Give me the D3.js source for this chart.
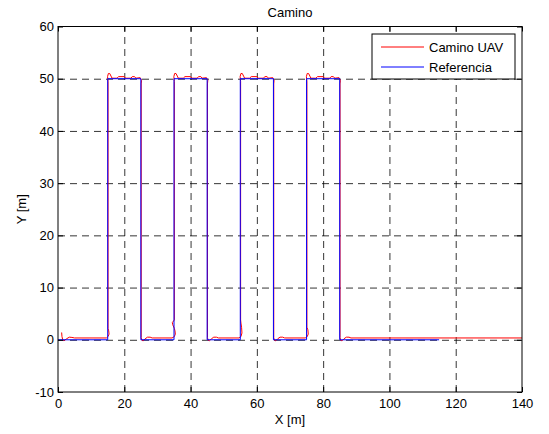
<!DOCTYPE html>
<meta charset="utf-8" />
<style>
  body { margin: 0; background: #fff; }
  text { font-family: "Liberation Sans", Arial, sans-serif; font-size: 13px; fill: #000; }
  .grid line { stroke: #000; stroke-width: 0.8; stroke-dasharray: 7, 5; }
  .grid path { display: none; }
  .axis path { display: none; }
  .axis line { stroke: #000; }
</style>
<body>
<script src="https://d3js.org/d3.v7.min.js"></script>
<script>
  // tick values
  var xTicks = [0, 20, 40, 60, 80, 100, 120, 140];
  var yTicks = [-10, 0, 10, 20, 30, 40, 50, 60];

  // reference path (x, y)
  var refPath = [
    [0, 0], [15, 0], [15, 50], [25, 50], [25, 0],
    [35, 0], [35, 50], [45, 50], [45, 0],
    [55, 0], [55, 50], [65, 50], [65, 0],
    [75, 0], [75, 50], [85, 50], [85, 0], [115, 0]
  ];

  // UAV path
  var uavPath = [
    [1.1, 1.4], [1.2, 0.6], [1.4, 0.1], [1.8, -0.2], [2.6, 0.2], [3.4, 0.5], [4.2, 0.45], [5.0, 0.35],
    [14.6, 0.35], [15.1, 0.6], [15.4, 1.1], [15.3, 1.7], [15.1, 2.2],
    [15.1, 49.5], [14.95, 50.4], [15.2, 51.0], [15.6, 51.0], [16.0, 50.5], [16.3, 50.1],
    [17.8, 50.1], [18.3, 50.4], [20.0, 50.4], [20.4, 50.1], [22.0, 50.1], [22.4, 50.4],
    [23.1, 50.4], [23.5, 50.1], [24.8, 50.2], [25.2, 49.7], [25.1, 49.0],
    [25.1, 0.4], [25.3, -0.1], [25.7, -0.2], [26.3, 0.2], [27.0, 0.5], [27.8, 0.5], [28.4, 0.35],
    [34.4, 0.35], [35.1, 0.6], [35.4, 1.1], [35.3, 1.7], [35.1, 2.2], [34.6, 2.9], [34.5, 3.3], [35.1, 3.8],
    [35.1, 49.5], [34.95, 50.4], [35.2, 51.0], [35.6, 51.0], [36.0, 50.5], [36.3, 50.1],
    [37.8, 50.1], [38.3, 50.4], [40.0, 50.4], [40.4, 50.1], [42.0, 50.1], [42.4, 50.4],
    [43.1, 50.4], [43.5, 50.1], [44.8, 50.2], [45.2, 49.7], [45.1, 49.0],
    [45.1, 0.4], [45.3, -0.1], [45.7, -0.2], [46.3, 0.2], [47.0, 0.5], [47.8, 0.5], [48.4, 0.35],
    [54.6, 0.35], [55.2, 0.6], [55.5, 1.3], [55.4, 2.3], [55.2, 3.2], [55.1, 3.8],
    [55.1, 49.5], [54.95, 50.4], [55.2, 51.0], [55.6, 51.0], [56.0, 50.5], [56.3, 50.1],
    [57.8, 50.1], [58.3, 50.4], [60.0, 50.4], [60.4, 50.1], [62.0, 50.1], [62.4, 50.4],
    [63.1, 50.4], [63.5, 50.1], [64.8, 50.2], [65.2, 49.7], [65.1, 49.0],
    [65.1, 0.4], [65.3, -0.1], [65.7, -0.2], [66.3, 0.2], [67.0, 0.5], [67.8, 0.5], [68.4, 0.35],
    [74.6, 0.35], [75.2, 0.6], [75.5, 1.1], [75.4, 1.9], [75.1, 2.4],
    [75.1, 49.5], [74.95, 50.4], [75.2, 51.0], [75.6, 51.0], [76.0, 50.5], [76.3, 50.1],
    [77.8, 50.1], [78.3, 50.4], [80.0, 50.4], [80.4, 50.1], [82.0, 50.1], [82.4, 50.4],
    [83.1, 50.4], [83.5, 50.1], [84.8, 50.2], [85.2, 49.7], [85.1, 49.0],
    [85.1, 0.4], [85.3, -0.1], [85.7, -0.2], [86.3, 0.2], [87.0, 0.5], [87.8, 0.5], [88.4, 0.35],
    [140, 0.35]
  ];

  var seriesNames = ["Camino UAV", "Referencia"];
  var seriesColors = ["#ff0000", "#0000ff"];

  var margin = { top: 26.5, right: 27, bottom: 42, left: 58 },
    width = 549 - margin.left - margin.right,
    height = 434 - margin.top - margin.bottom;

  var x = d3.scaleLinear().domain([0, 140]).range([0, width]);
  var y = d3.scaleLinear().domain([-10, 60]).range([height, 0]);

  // plain hyphen for negatives, as in the original
  var fmt = function (d) { return String(d); };

  var svg = d3.select("body").append("svg")
    .attr("width", 549)
    .attr("height", 434)
    .append("g")
    .attr("transform", "translate(" + margin.left + "," + margin.top + ")");

  // grid
  svg.append("g")
    .attr("class", "grid")
    .attr("transform", "translate(0," + height + ")")
    .call(d3.axisBottom(x).tickValues(xTicks.slice(1, -1)).tickSize(-height).tickFormat(""));
  svg.append("g")
    .attr("class", "grid")
    .call(d3.axisLeft(y).tickValues(yTicks.slice(1, -1)).tickSize(-width).tickFormat(""));

  // the lines
  var line = d3.line()
    .x(function (d) { return x(d[0]); })
    .y(function (d) { return y(d[1]); });

  svg.append("path").datum(uavPath)
    .attr("d", line).attr("fill", "none")
    .attr("stroke", seriesColors[0]).attr("stroke-width", 1);
  svg.append("path").datum(refPath)
    .attr("d", line).attr("fill", "none")
    .attr("stroke", seriesColors[1]).attr("stroke-width", 1);

  // axes with inward ticks
  svg.append("g").attr("class", "axis")
    .attr("transform", "translate(0," + height + ")")
    .call(d3.axisBottom(x).tickValues(xTicks).tickFormat(fmt).tickSizeInner(-5).tickSizeOuter(0).tickPadding(7));
  svg.append("g").attr("class", "axis")
    .call(d3.axisLeft(y).tickValues(yTicks).tickFormat(fmt).tickSizeInner(-5).tickSizeOuter(0).tickPadding(4));
  svg.append("g").attr("class", "axis")
    .call(d3.axisTop(x).tickValues(xTicks).tickSizeInner(-5).tickSizeOuter(0).tickFormat(""));
  svg.append("g").attr("class", "axis")
    .attr("transform", "translate(" + width + ",0)")
    .call(d3.axisRight(y).tickValues(yTicks).tickSizeInner(-5).tickSizeOuter(0).tickFormat(""));
  svg.selectAll(".axis text").style("font-size", "13px").style("font-family", "'Liberation Sans', Arial, sans-serif");

  // box
  svg.append("rect")
    .attr("width", width).attr("height", height)
    .attr("fill", "none").attr("stroke", "#000").attr("stroke-width", 1);

  // labels
  svg.append("text")
    .attr("x", width / 2).attr("y", -10)
    .attr("text-anchor", "middle").text("Camino");
  svg.append("text")
    .attr("x", width / 2).attr("y", height + 32)
    .attr("text-anchor", "middle").text("X [m]");
  svg.append("text")
    .attr("transform", "translate(" + (-32) + "," + (height / 2) + ") rotate(-90)")
    .attr("text-anchor", "middle").text("Y [m]");

  // legend
  var legend = svg.append("g")
    .attr("transform", "translate(" + (372 - margin.left) + "," + (34 - margin.top) + ")");
  legend.append("rect")
    .attr("width", 143).attr("height", 45)
    .attr("fill", "#fff").attr("stroke", "#000").attr("stroke-width", 1);
  seriesNames.forEach(function (name, i) {
    legend.append("line")
      .attr("x1", 9).attr("x2", 52)
      .attr("y1", 13 + i * 20).attr("y2", 13 + i * 20)
      .attr("stroke", seriesColors[i]).attr("stroke-width", 1);
    legend.append("text")
      .attr("x", 57).attr("y", 13 + i * 20)
      .attr("dy", "0.35em").text(name);
  });
</script>
</body>
